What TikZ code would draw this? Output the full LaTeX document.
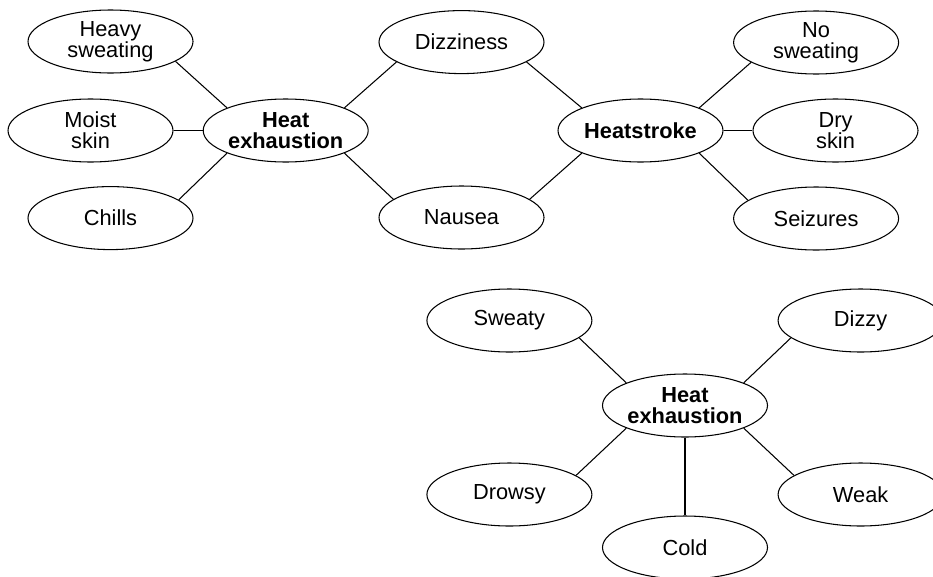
\documentclass[tikz,border=0pt]{standalone}
\usepackage{fontspec}
\setmainfont{Liberation Sans}
\usetikzlibrary{shapes.geometric,positioning}

\begin{document}
\begin{tikzpicture}[node distance=2.2cm and 4.39cm, on grid,
    symptom/.style={ellipse, draw, line width=0.75pt, minimum width=4.125cm, minimum height=1.575cm, inner sep=0pt, align=center, font=\fontsize{15.5}{15.2}\selectfont},
    hub/.style={symptom, font=\fontsize{15.5}{15.2}\selectfont\bfseries},
    every path/.style={line width=0.75pt}]
    \useasboundingbox (0,0) rectangle (23.325,-14.4);

    % Heat exhaustion
    \node[hub] (heat_exh) at (7.1425,-3.2625) {Heat\\exhaustion};
    \node[symptom, above left=2.225cm and 4.38cm of heat_exh] (heavy_sweat) {Heavy\\sweating};
    \node[symptom, left=4.88cm of heat_exh] (moist_skin) {Moist\\skin};
    \node[symptom, below left=2.19cm and 4.38cm of heat_exh] (chills) {Chills};

    % Shared symptoms
    \node[symptom, above right=2.21cm and 4.395cm of heat_exh] (dizziness) {Dizziness};
    \node[symptom, below right=2.175cm and 4.395cm of heat_exh] (nausea) {Nausea};

    % Heatstroke
    \node[hub, right=8.87cm of heat_exh] (heatstroke) {Heatstroke};
    \node[symptom, above right=2.2cm and 4.39cm of heatstroke] (no_sweat) {No\\sweating};
    \node[symptom, right=4.875cm of heatstroke] (dry_skin) {Dry\\skin};
    \node[symptom, below right=2.2cm and 4.39cm of heatstroke] (seizures) {Seizures};

    \draw (heavy_sweat.-17) -- (heat_exh.north west);
    \draw (moist_skin) -- (heat_exh);
    \draw (chills.15) -- (heat_exh.south west);
    \draw (heat_exh.north east) -- (dizziness.197);
    \draw (heat_exh.south east) -- (nausea.165);
    \draw (dizziness.-17) -- (heatstroke.north west);
    \draw (nausea.15) -- (heatstroke.south west);
    \draw (heatstroke.north east) -- (no_sweat.197);
    \draw (heatstroke) -- (dry_skin);
    \draw (heatstroke.south east) -- (seizures.165);

    % Second web
    \node[hub] (heat_exh2) at (17.125,-10.1375) {Heat\\exhaustion};
    \node[symptom, above left=2.125cm and 4.39cm of heat_exh2] (sweaty) {Sweaty};
    \node[symptom, above right=2.125cm and 4.39cm of heat_exh2] (dizzy) {Dizzy};
    \node[symptom, below left=2.225cm and 4.39cm of heat_exh2] (drowsy) {Drowsy};
    \node[symptom, below right=2.225cm and 4.39cm of heat_exh2] (weak) {Weak};
    \node[symptom, below=3.55cm of heat_exh2] (cold) {Cold};

    \draw (sweaty.-14) -- (heat_exh2.north west);
    \draw (dizzy.194) -- (heat_exh2.north east);
    \draw (drowsy.16) -- (heat_exh2.south west);
    \draw (weak.164) -- (heat_exh2.south east);
    \draw (heat_exh2) -- (cold);
\end{tikzpicture}
\end{document}
